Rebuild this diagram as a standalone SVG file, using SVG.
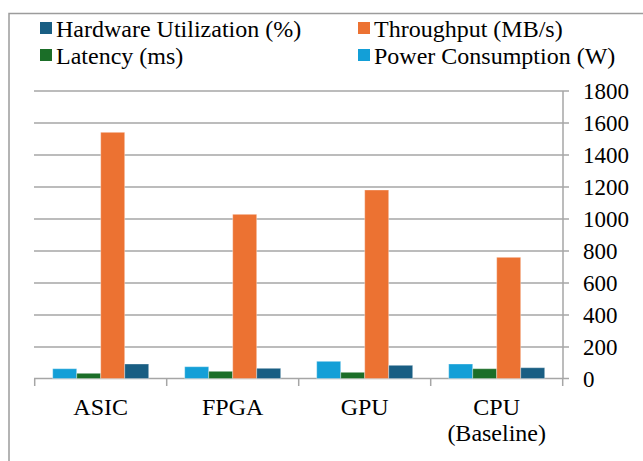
<svg xmlns="http://www.w3.org/2000/svg" width="643" height="461" viewBox="0 0 643 461">
<style>
text{font-family:"Liberation Serif","Times New Roman",serif;fill:#000;font-size:23px}
.leg{font-size:24px}
.grid{stroke:#A6A6A6;stroke-width:1.5;fill:none}
.frame{stroke:#9C9C9C;stroke-width:1.5;fill:none}
.hw{fill:#195E83}
.tp{fill:#EC7232}
.lat{fill:#1B6E28}
.pw{fill:#139FD7}
.bar{stroke:#ffffff;stroke-opacity:0.35;stroke-width:1}
.cat{text-anchor:middle;font-size:24px}
</style>
<rect width="643" height="461" fill="#fff"/>
<path class="frame" d="M9 461V13.5H643"/>
<g id="legend">
<g id="legend-hw"><rect class="hw" x="40" y="22" width="12" height="12"/><text class="leg" x="56" y="37">Hardware Utilization (%)</text></g>
<g id="legend-tp"><rect class="tp" x="358" y="22" width="12" height="12"/><text class="leg" x="374" y="37">Throughput (MB/s)</text></g>
<g id="legend-lat"><rect class="lat" x="40" y="49" width="12" height="12"/><text class="leg" x="56" y="64">Latency (ms)</text></g>
<g id="legend-pw"><rect class="pw" x="358" y="49" width="12" height="12"/><text class="leg" x="374" y="64">Power Consumption (W)</text></g>
</g>
<g id="axes">
<path class="grid" d="M34 91H569M34 123H569M34 155H569M34 187H569M34 219H569M34 251H569M34 283H569M34 315H569M34 347H569"/>
<path class="grid" d="M563 91V378.5M34 378.5H569M34.7 378.5V386M166.7 378.5V386M298.7 378.5V386M430.7 378.5V386M562.7 378.5V386"/>
<g id="y-labels">
<text x="583" y="99">1800</text>
<text x="583" y="131">1600</text>
<text x="583" y="163">1400</text>
<text x="583" y="195">1200</text>
<text x="583" y="227">1000</text>
<text x="583" y="259">800</text>
<text x="583" y="291">600</text>
<text x="583" y="323">400</text>
<text x="583" y="355">200</text>
<text x="583" y="387">0</text>
</g>
</g>
<g id="bars">
<g id="asic">
<rect class="bar pw" x="52.7" y="368.7" width="24" height="9.8"/>
<rect class="bar lat" x="76.7" y="373.3" width="24" height="5.2"/>
<rect class="bar tp" x="100.7" y="132.3" width="24" height="246.2"/>
<rect class="bar hw" x="124.7" y="364" width="24" height="14.5"/>
<text class="cat" x="100.7" y="415">ASIC</text>
</g>
<g id="fpga">
<rect class="bar pw" x="184.7" y="366.7" width="24" height="11.8"/>
<rect class="bar lat" x="208.7" y="371.3" width="24" height="7.2"/>
<rect class="bar tp" x="232.7" y="214.3" width="24" height="164.2"/>
<rect class="bar hw" x="256.7" y="368.3" width="24" height="10.2"/>
<text class="cat" x="232.7" y="415">FPGA</text>
</g>
<g id="gpu">
<rect class="bar pw" x="316.7" y="361.3" width="24" height="17.2"/>
<rect class="bar lat" x="340.7" y="372.3" width="24" height="6.2"/>
<rect class="bar tp" x="364.7" y="190" width="24" height="188.5"/>
<rect class="bar hw" x="388.7" y="365.3" width="24" height="13.2"/>
<text class="cat" x="364.7" y="415">GPU</text>
</g>
<g id="cpu">
<rect class="bar pw" x="448.7" y="364" width="24" height="14.5"/>
<rect class="bar lat" x="472.7" y="368.7" width="24" height="9.8"/>
<rect class="bar tp" x="496.7" y="257.3" width="24" height="121.2"/>
<rect class="bar hw" x="520.7" y="367.7" width="24" height="10.8"/>
<text class="cat" x="496.7" y="415">CPU</text>
<text class="cat" x="496.7" y="441">(Baseline)</text>
</g>
</g>
</svg>
